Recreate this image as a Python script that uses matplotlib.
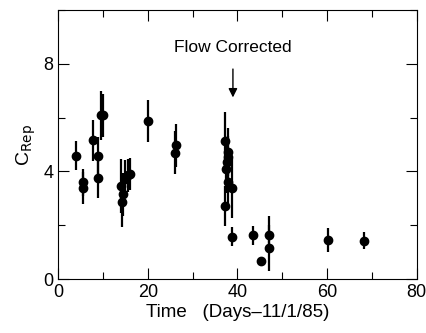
import numpy as np
import matplotlib.pyplot as plt
from matplotlib.ticker import MultipleLocator

plt.rcParams['font.family'] = ['Liberation Sans', 'DejaVu Sans']

# days since 11/1/85, C_Rep value, error half-width
days = [4.0, 5.5, 5.5, 7.8, 9.0, 8.9, 9.5, 10.0,
        14.1, 14.5, 14.3, 14.9, 15.6, 16.1,
        20.0, 26.2, 26.0,
        37.3, 37.8, 37.9, 37.7, 37.4, 38.0, 37.3,
        38.9, 38.9, 43.5, 45.3, 47.0, 47.0, 60.3, 68.3]
crep = [4.59, 3.60, 3.38, 5.15, 4.59, 3.75, 6.08, 6.08,
        3.45, 3.16, 2.85, 3.72, 3.85, 3.91,
        5.88, 4.97, 4.69,
        5.12, 4.72, 4.53, 4.35, 4.10, 3.60, 2.72,
        3.38, 1.57, 1.62, 0.68, 1.65, 1.15, 1.44, 1.43]
err = [0.55, 0.50, 0.60, 0.75, 0.70, 0.75, 0.90, 0.80,
       1.00, 0.80, 0.90, 0.70, 0.60, 0.60,
       0.77, 0.80, 0.80,
       1.10, 0.90, 0.80, 0.80, 0.90, 0.80, 0.75,
       1.10, 0.35, 0.35, 0.12, 0.70, 0.85, 0.44, 0.33]

fig = plt.figure(figsize=(4.27, 3.33), dpi=100)
ax = fig.add_axes([0.136, 0.162, 0.840, 0.808])

ax.errorbar(days, crep, yerr=err, fmt='o', color='black', ms=6,
            elinewidth=1.6, capsize=0)

ax.annotate('Flow Corrected', xy=(39, 6.75), xytext=(39, 8.6),
            ha='center', va='center', fontsize=12.5,
            arrowprops=dict(arrowstyle='-|>', color='black', lw=1.0,
                            shrinkA=8, shrinkB=0, mutation_scale=13))

ax.set_xlim(0, 80)
ax.set_ylim(0, 10)
ax.xaxis.set_major_locator(MultipleLocator(20))
ax.xaxis.set_minor_locator(MultipleLocator(10))
ax.yaxis.set_major_locator(MultipleLocator(4))
ax.yaxis.set_minor_locator(MultipleLocator(2))
ax.set_yticks([0, 4, 8])
ax.tick_params(which='both', direction='in', top=True, right=True,
               labelsize=13, width=0.8)
ax.tick_params(which='major', length=8)
ax.tick_params(which='minor', length=5)
ax.set_xlabel('Time   (Days\u201311/1/85)', fontsize=13.5, labelpad=2)
ax.set_ylabel(r'C$_{\mathrm{Rep}}$', fontsize=14, labelpad=4)

plt.savefig('out.png', dpi=100)
